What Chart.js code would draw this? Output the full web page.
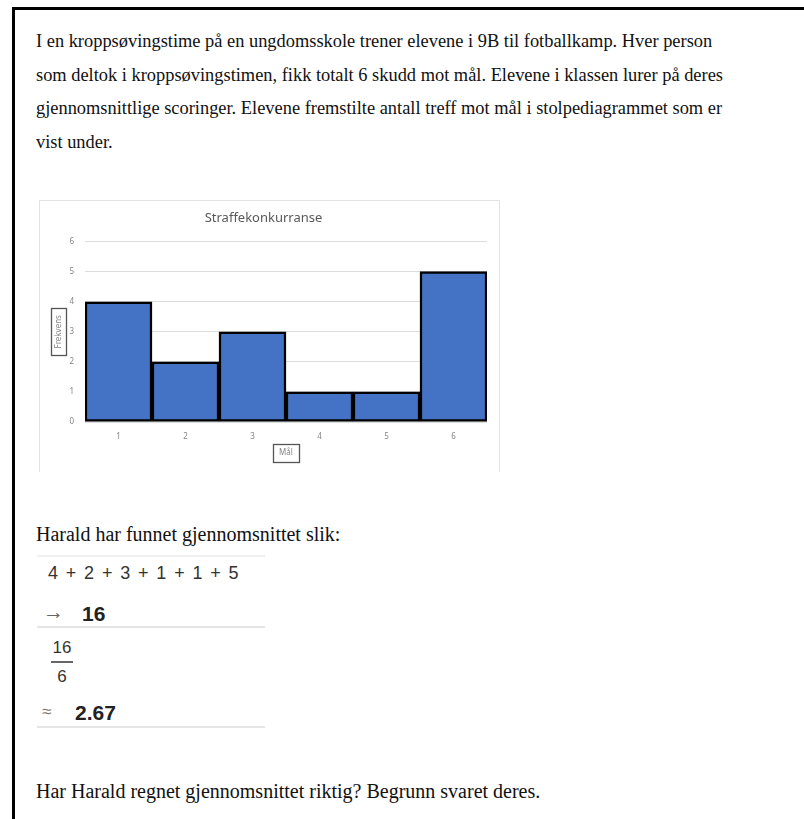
<!DOCTYPE html>
<html lang="no">
<head>
  <meta charset="UTF-8">
  <title>Straffekonkurranse</title>
  <style>
    body { margin: 0; background: #fff; font-family: "Liberation Serif", "Times New Roman", serif; }
    #page { position: absolute; left: 12px; top: 7px; width: 800px; height: 830px; border-left: 3px solid #000; border-top: 3px solid #000; }
    .txt { position: absolute; left: 36px; font-size: 18.4px; line-height: 33.7px; color: #111; white-space: nowrap; }
    .big { font-size: 20px; }
    #chartBox { position: absolute; left: 39px; top: 200px; width: 461px; height: 272px; box-sizing: border-box; border: 1px solid #e3e3e3; border-bottom: none; }
    #chartBox canvas { display: block; }
    .calc { position: absolute; left: 37px; width: 228px; font-family: "Liberation Sans", Arial, sans-serif; color: #333; }
    .sep { position: absolute; left: 37px; width: 228px; height: 2px; background: #e6e6e6; }
    .sum { top: 563px; left: 48px; font-size: 18px; word-spacing: 2px; letter-spacing: 0.4px; }
    .arrow { top: 600px; left: 43px; font-size: 21px; color: #666; }
    .res1 { top: 602px; left: 82px; font-size: 21px; font-weight: bold; color: #222; }
    .frac { top: 638px; left: 51px; width: 22px; text-align: center; font-size: 17px; line-height: 20px; }
    .frac .bar { height: 2px; background: #666; margin: 3px 0 4px; }
    .approx { top: 702px; left: 42px; font-size: 17px; color: #777; }
    .res2 { top: 701px; left: 75px; font-size: 21px; font-weight: bold; color: #222; }
  </style>
  <script src="https://cdn.jsdelivr.net/npm/chart.js"></script>
</head>
<body>
  <div id="page"></div>

  <div class="txt" style="top: 25px;">
    I en kroppsøvingstime på en ungdomsskole trener elevene i 9B til fotballkamp. Hver person<br>
    som deltok i kroppsøvingstimen, fikk totalt 6 skudd mot mål. Elevene i klassen lurer på deres<br>
    gjennomsnittlige scoringer. Elevene fremstilte antall treff mot mål i stolpediagrammet som er<br>
    vist under.
  </div>

  <div id="chartBox"><canvas id="scoreChart" width="459" height="271"></canvas></div>

  <div class="txt big" style="top: 518px;">Harald har funnet gjennomsnittet slik:</div>

  <div class="sep" style="top: 555px; background: #efefef;"></div>
  <div class="calc sum">4 + 2 + 3 + 1 + 1 + 5</div>
  <div class="calc arrow">&#8594;</div>
  <div class="calc res1">16</div>
  <div class="sep" style="top: 626px;"></div>
  <div class="calc frac"><div>16</div><div class="bar"></div><div>6</div></div>
  <div class="calc approx">&#8776;</div>
  <div class="calc res2">2.67</div>
  <div class="sep" style="top: 726px;"></div>

  <div class="txt big" style="top: 775px;">Har Harald regnet gjennomsnittet riktig? Begrunn svaret deres.</div>

  <script>
    const goals = ["1", "2", "3", "4", "5", "6"];
    const frequency = [4, 2, 3, 1, 1, 5];
    const yTicks = [0, 1, 2, 3, 4, 5, 6];

    const chartFont = "'Noto Sans', 'Liberation Sans', sans-serif";
    const smallSize = 8;

    // draws the little frames round the axis titles, like in the Excel chart
    const titleBoxes = {
      id: 'titleBoxes',
      afterDraw(chart) {
        const ctx = chart.ctx;
        const xs = chart.scales.x, ys = chart.scales.y;
        const lh = smallSize * 1.2;
        ctx.save();
        ctx.strokeStyle = '#555';
        ctx.lineWidth = 1.3;
        ctx.font = smallSize + "px " + chartFont;

        const xt = xs.options.title;
        const wx = ctx.measureText(xt.text).width;
        const cx = (xs.left + xs.right) / 2;
        const cy = xs.bottom - xt.padding.bottom - lh / 2;
        ctx.strokeRect(Math.round(cx - wx / 2 - 6) + 0.5, Math.round(cy - 9) + 0.5, Math.round(wx + 12), 18);

        const yt = ys.options.title;
        const wy = ctx.measureText(yt.text).width;
        const ccx = ys.left + yt.padding.top + lh / 2;
        const ccy = (ys.top + ys.bottom) / 2;
        ctx.strokeRect(Math.round(ccx - 8) + 0.5, Math.round(ccy - wy / 2 - 7) + 0.5, 15, Math.round(wy + 14));
        ctx.restore();
      }
    };

    new Chart(document.getElementById('scoreChart').getContext('2d'), {
      type: 'bar',
      data: {
        labels: goals,
        datasets: [{
          label: 'Frekvens',
          data: frequency,
          backgroundColor: '#4472C4',
          borderColor: '#000',
          borderWidth: 2.5,
          borderSkipped: false,
          categoryPercentage: 1,
          barPercentage: 1
        }]
      },
      options: {
        responsive: false,
        animation: false,
        layout: { padding: { left: 0, right: 12, top: 0, bottom: 0 } },
        plugins: {
          legend: { display: false },
          tooltip: { enabled: false },
          title: {
            display: true,
            text: 'Straffekonkurranse',
            color: '#595959',
            font: { family: chartFont, size: 13, weight: 'normal' },
            padding: { top: 9, bottom: 16 }
          }
        },
        scales: {
          x: {
            grid: { display: false, drawTicks: false },
            border: { display: false },
            ticks: { color: '#858585', font: { family: chartFont, size: smallSize }, padding: 10 },
            title: { display: true, text: 'Mål', color: '#858585', font: { family: chartFont, size: smallSize }, padding: { top: 0, bottom: 14 } },
            afterFit(scale) { scale.height = 50; }
          },
          y: {
            min: 0,
            max: 6,
            afterBuildTicks(scale) { scale.ticks = yTicks.map(v => ({ value: v })); },
            grid: { color: '#dcdcdc', lineWidth: 1, drawTicks: false },
            border: { display: false },
            ticks: { color: '#858585', font: { family: chartFont, size: smallSize }, padding: 11 },
            title: { display: true, text: 'Frekvens', color: '#858585', font: { family: chartFont, size: smallSize }, padding: { top: 14, bottom: 0 } },
            afterFit(scale) { scale.width = 45; }
          }
        }
      },
      plugins: [titleBoxes]
    });
  </script>
</body>
</html>
